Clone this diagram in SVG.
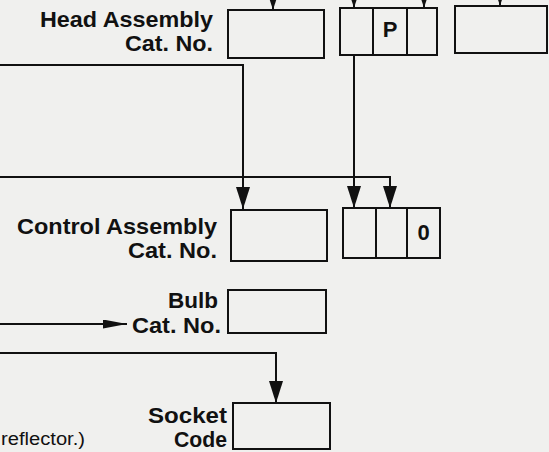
<svg xmlns="http://www.w3.org/2000/svg" width="549" height="452" viewBox="0 0 549 452">
<style>
.box{fill:none;stroke:#111;stroke-width:2}
.ln{fill:none;stroke:#111;stroke-width:2}
.lbl{font-family:"Liberation Sans",Arial,sans-serif;font-weight:bold;font-size:21.5px;fill:#111;text-anchor:end}
.cell{font-family:"Liberation Sans",Arial,sans-serif;font-weight:bold;font-size:22px;fill:#111;text-anchor:middle}
.note{font-family:"Liberation Sans",Arial,sans-serif;font-size:18px;fill:#111}
</style>
<defs>
<marker id="arr" viewBox="0 0 22 14" refX="22" refY="7" markerWidth="22" markerHeight="14" markerUnits="userSpaceOnUse" orient="auto">
<path d="M0,0 L22,7 L0,14 Z" fill="#111"/>
</marker>
<marker id="arrs" viewBox="0 0 24 9" refX="24" refY="4.5" markerWidth="24" markerHeight="9" markerUnits="userSpaceOnUse" orient="auto">
<path d="M0,0 L24,4.5 L0,9 Z" fill="#111"/>
</marker>
</defs>
<rect width="549" height="452" fill="#f0f0ee"/>
<g id="connectors">
<path class="ln" d="M273,-20 V10" marker-end="url(#arr)"/>
<path class="ln" d="M354,-20 V8" marker-end="url(#arr)"/>
<path class="ln" d="M424,-20 V8" marker-end="url(#arr)"/>
<path class="ln" d="M500,-20 V6" marker-end="url(#arr)"/>
<path class="ln" d="M0,65 H243 V209" marker-end="url(#arr)"/>
<path class="ln" d="M354,55 V208" marker-end="url(#arr)"/>
<path class="ln" d="M0,177 H390 V208" marker-end="url(#arr)"/>
<path class="ln" d="M0,324 H127" marker-end="url(#arrs)"/>
<path class="ln" d="M0,353 H276 V403" marker-end="url(#arr)"/>
</g>
<g id="head-assembly">
<text class="lbl" x="213" y="27" textLength="173" lengthAdjust="spacingAndGlyphs">Head Assembly</text>
<text class="lbl" x="213" y="51" textLength="88" lengthAdjust="spacingAndGlyphs">Cat. No.</text>
<rect class="box" x="228" y="10" width="96" height="48"/>
</g>
<g id="head-code">
<rect class="box" x="340" y="8" width="97" height="47"/>
<line class="ln" x1="373" y1="8" x2="373" y2="55"/>
<line class="ln" x1="407" y1="8" x2="407" y2="55"/>
<text class="cell" x="390" y="37">P</text>
</g>
<g id="top-right">
<rect class="box" x="455" y="6" width="92" height="47"/>
</g>
<g id="control-assembly">
<text class="lbl" x="217" y="234" textLength="200" lengthAdjust="spacingAndGlyphs">Control Assembly</text>
<text class="lbl" x="217" y="258" textLength="89" lengthAdjust="spacingAndGlyphs">Cat. No.</text>
<rect class="box" x="231" y="210" width="96" height="51"/>
</g>
<g id="control-code">
<rect class="box" x="343" y="208" width="97" height="50"/>
<line class="ln" x1="376" y1="208" x2="376" y2="258"/>
<line class="ln" x1="407" y1="208" x2="407" y2="258"/>
<text class="cell" x="423.5" y="240">0</text>
</g>
<g id="bulb">
<text class="lbl" x="218" y="308" textLength="50" lengthAdjust="spacingAndGlyphs">Bulb</text>
<text class="lbl" x="221" y="333" textLength="89" lengthAdjust="spacingAndGlyphs">Cat. No.</text>
<rect class="box" x="228" y="290" width="98" height="43"/>
</g>
<g id="socket">
<text class="lbl" x="227" y="423" textLength="79" lengthAdjust="spacingAndGlyphs">Socket</text>
<text class="lbl" x="227" y="447" textLength="53" lengthAdjust="spacingAndGlyphs">Code</text>
<rect class="box" x="233" y="403" width="97" height="46"/>
</g>
<text class="note" x="1" y="445" textLength="84" lengthAdjust="spacingAndGlyphs">reflector.)</text>
</svg>
